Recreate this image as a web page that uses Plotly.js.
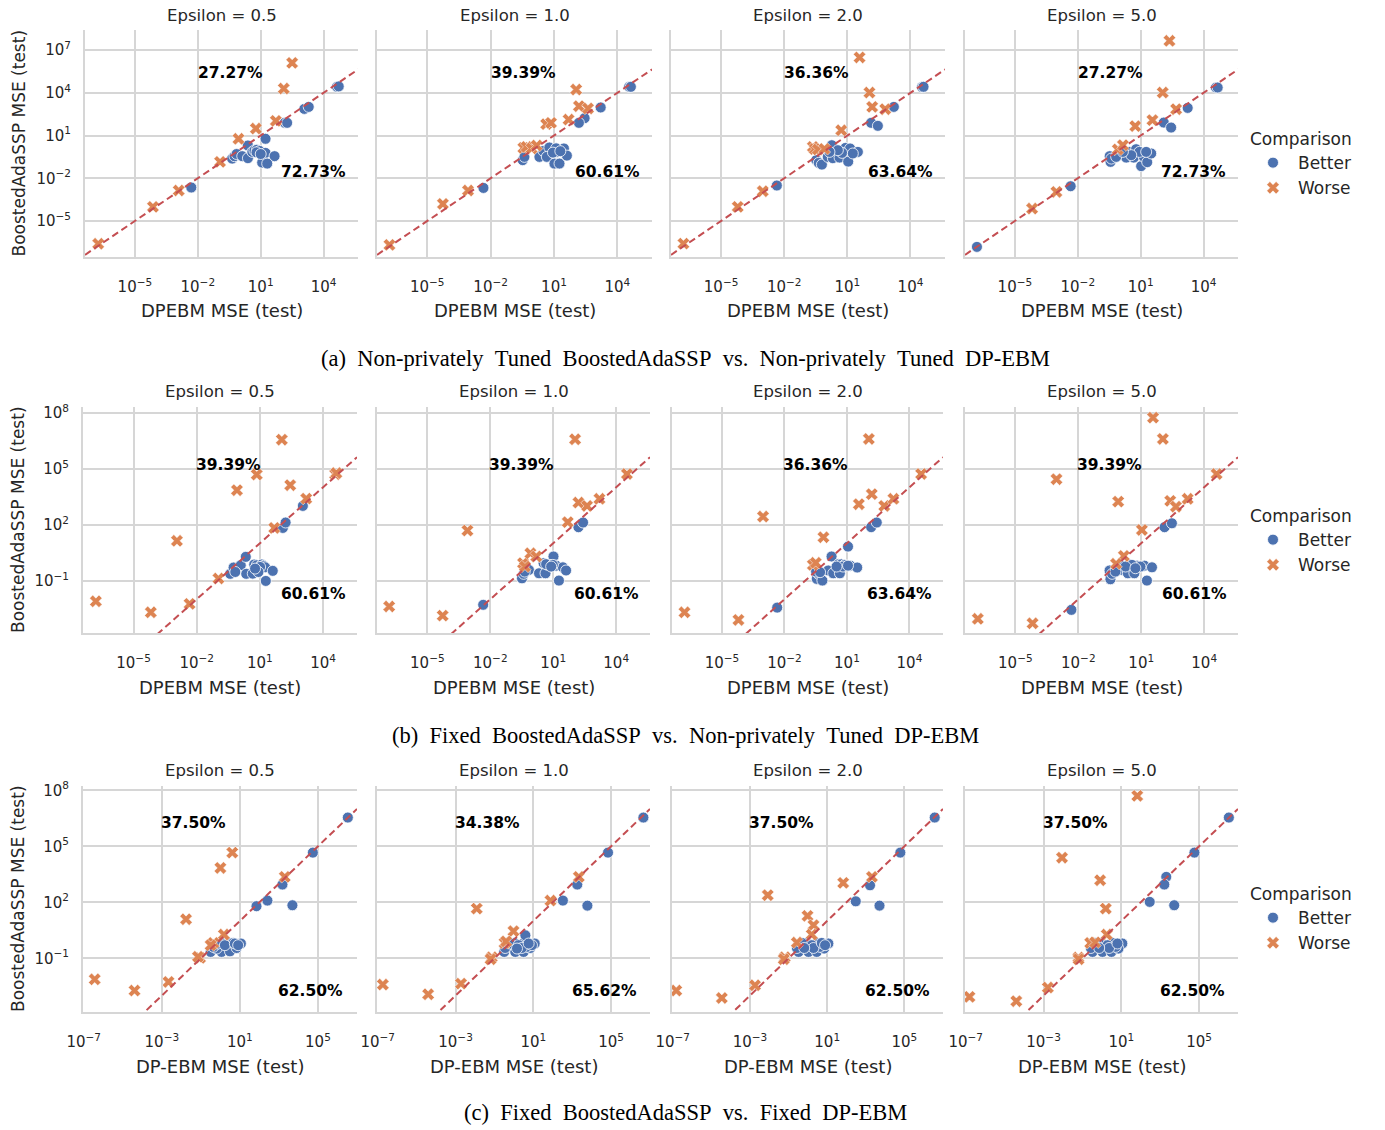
<!DOCTYPE html>
<html><head><meta charset="utf-8">
<script src="https://cdn.plot.ly/plotly-3.0.1.min.js"></script>
<style>html,body{margin:0;padding:0;background:#fff;}#chart{width:1385px;height:1130px;}</style>
</head><body><div id="chart"></div>
<script>
// ---------- DATA (stored as log10 of the MSE: [log10 DPEBM MSE, log10 BoostedAdaSSP MSE]) ----------
const epsilons = ["0.5", "1.0", "2.0", "5.0"];
const comparisonLabels = ["Better", "Worse"];
const rowXTitles = ["DPEBM MSE (test)", "DPEBM MSE (test)", "DP-EBM MSE (test)"];
const yTitle = "BoostedAdaSSP MSE (test)";
const captions = [
  "(a) Non-privately Tuned BoostedAdaSSP vs. Non-privately Tuned DP-EBM",
  "(b) Fixed BoostedAdaSSP vs. Non-privately Tuned DP-EBM",
  "(c) Fixed BoostedAdaSSP vs. Fixed DP-EBM"
];
const worsePct = [["27.27%","39.39%","36.36%","27.27%"],["39.39%","39.39%","36.36%","39.39%"],["37.50%","34.38%","37.50%","37.50%"]];
const betterPct = [["72.73%","60.61%","63.64%","72.73%"],["60.61%","60.61%","63.64%","60.61%"],["62.50%","65.62%","62.50%","62.50%"]];
const rowXTickExp = [[-5,-2,1,4],[-5,-2,1,4],[-7,-3,1,5]];
const rowYTickExp = [[-5,-2,1,4,7],[-1,2,5,8],[-1,2,5,8]];

// (a) Non-privately tuned vs non-privately tuned
const a_e05_better = [[-2.31,-2.65],[4.64,4.42],[4.72,4.45],[3.08,2.87],[3.29,3.01],[2.15,1.89],[2.26,1.89],[1.23,0.77],[0.39,0.30],[-0.36,-0.62],[-0.25,-0.45],[-0.15,-0.30],[0.12,-0.45],[0.39,-0.59],[0.60,-0.15],[0.70,-0.05],[0.82,0.0],[0.95,-0.08],[0.80,-0.18],[1.23,-0.22],[1.66,-0.45],[1.07,-0.90],[1.31,-0.97],[1.0,-0.3]];
const a_e05_worse = [[-6.75,-6.6],[-4.14,-4.01],[-2.91,-2.86],[-0.94,-0.85],[-0.06,0.77],[0.77,1.49],[1.72,2.03],[2.1,4.3],[2.5,6.1]];
const a_e10_better = [[-2.34,-2.68],[4.56,4.42],[4.64,4.42],[3.21,2.97],[2.45,2.22],[2.18,1.89],[-0.48,-0.73],[-0.40,-0.5],[0.31,-0.5],[0.5,-0.08],[0.78,0.16],[0.66,-0.5],[1.02,-0.97],[1.26,-0.97],[1.15,-0.15],[1.47,0.09],[1.61,-0.41],[1.1,0.1],[0.95,-0.2],[1.3,-0.1]];
const a_e10_worse = [[-6.79,-6.68],[-4.26,-3.8],[-3.07,-2.86],[-0.45,0.13],[-0.3,0.2],[-0.06,0.09],[0.18,0.30],[0.63,1.8],[0.86,1.89],[1.69,2.12],[2.05,4.23],[2.18,3.06],[2.61,2.9]];
const a_e20_better = [[-2.35,-2.51],[4.55,4.40],[4.62,4.42],[3.21,3.01],[2.13,1.89],[2.45,1.68],[0.26,0.32],[-0.48,-0.73],[-0.36,-0.92],[-0.21,-1.04],[0.07,-0.5],[0.31,-0.59],[0.63,-0.55],[0.91,0.13],[1.13,0.09],[1.04,-0.83],[1.5,-0.15],[0.75,-0.22],[0.55,-0.03],[1.26,-0.26],[0.15,-0.15]];
const a_e20_worse = [[-6.79,-6.59],[-4.21,-4.01],[-3.02,-2.91],[-0.64,0.2],[-0.55,0.05],[-0.4,0.02],[-0.09,0.06],[0.71,1.37],[1.58,6.48],[2.05,4.02],[2.18,3.01],[2.80,2.85]];
const a_e50_better = [[-6.81,-6.82],[-2.34,-2.56],[4.59,4.37],[4.67,4.37],[3.24,2.94],[2.1,1.91],[2.45,1.56],[-0.48,-0.45],[-0.44,-0.85],[-0.4,-0.62],[0.02,-0.31],[0.31,-0.55],[0.47,-0.15],[0.67,-0.55],[0.78,0.04],[1.02,-1.15],[1.15,-0.5],[1.31,-0.87],[1.5,-0.26],[0.94,-0.15],[0.55,-0.38],[-0.17,-0.5],[0.15,-0.15],[1.26,-0.15]];
const a_e50_worse = [[-4.18,-4.13],[-3.02,-2.96],[-0.09,0.02],[0.15,0.32],[0.74,1.66],[1.56,2.08],[2.05,4.02],[2.69,2.85],[2.37,7.65]];

// (b) Fixed vs non-privately tuned
const b_e05_better = [[3.04,3.0],[2.09,1.82],[2.22,2.11],[-0.41,-0.64],[-0.25,-0.30],[0.09,-0.18],[0.33,0.27],[0.35,-0.64],[0.66,-0.63],[0.73,-0.14],[0.85,-0.18],[1.09,-0.14],[1.17,-0.21],[1.25,-0.29],[1.28,-1.02],[1.61,-0.48],[-0.17,-0.54],[1.01,-0.27],[0.93,-0.54],[0.77,-0.36]];
const b_e05_worse = [[-6.79,-2.11],[-4.18,-2.7],[-2.34,-2.25],[-0.97,-0.89],[-2.94,1.13],[-0.09,3.84],[0.85,4.68],[1.68,1.82],[2.04,6.55],[2.44,4.11],[3.2,3.39],[4.57,4.7],[4.63,4.76]];
const b_e10_better = [[-2.34,-2.3],[2.2,1.86],[2.42,2.11],[-0.49,-0.88],[-0.41,-0.64],[-0.16,-0.43],[0.32,-0.61],[0.63,-0.61],[0.54,-0.07],[0.74,-0.16],[1.01,0.29],[1.14,-0.2],[1.27,-1.0],[1.46,-0.29],[1.61,-0.46],[-0.36,-0.52],[0.82,-0.16],[0.66,-0.12],[0.98,-0.16],[0.9,-0.25]];
const b_e10_worse = [[-6.82,-2.39],[-4.27,-2.88],[-3.09,1.68],[-0.44,-0.07],[-0.35,-0.25],[-0.09,0.46],[0.19,0.29],[1.69,2.13],[2.04,6.57],[2.2,3.18],[2.61,3.0],[3.2,3.38],[4.51,4.71]];
const b_e20_better = [[-2.35,-2.45],[2.16,1.86],[2.43,2.11],[1.05,0.82],[0.26,0.29],[-0.45,-0.91],[-0.37,-0.64],[-0.18,-1.0],[-0.48,-0.52],[0.10,-0.46],[0.34,-0.61],[0.66,-0.61],[0.58,-0.13],[0.73,-0.13],[0.89,-0.16],[1.16,-0.2],[1.49,-0.3],[-0.29,-0.55],[0.81,-0.25],[1.05,-0.2],[0.5,-0.25]];
const b_e20_worse = [[-6.8,-2.7],[-4.21,-3.11],[-3.03,2.43],[-0.64,-0.16],[-0.5,-0.05],[-0.13,1.32],[1.57,3.09],[2.05,6.59],[2.19,3.63],[2.79,3.0],[3.23,3.38],[4.56,4.71]];
const b_e50_better = [[-2.33,-2.57],[2.11,1.86],[2.46,2.07],[-0.51,-0.46],[-0.47,-0.93],[-0.39,-0.64],[0.04,-0.2],[0.09,-0.43],[0.36,-0.61],[0.43,-0.13],[0.67,-0.61],[0.8,-0.2],[1.15,-0.2],[1.27,-1.0],[1.51,-0.29],[-0.23,-0.52],[0.56,-0.16],[0.96,-0.25],[0.25,-0.25],[0.72,-0.34]];
const b_e50_worse = [[-6.79,-3.05],[-4.18,-3.29],[-3.04,4.43],[-0.1,3.23],[0.17,0.32],[-0.2,-0.1],[1.03,1.71],[1.56,7.73],[2.03,6.59],[2.38,3.27],[2.65,2.96],[3.21,3.38],[4.59,4.71]];

// (c) Fixed vs fixed
const c_e05_better = [[6.53,6.54],[4.74,4.66],[3.18,2.95],[2.41,2.09],[1.85,1.79],[3.69,1.84],[-0.5,-0.66],[0.06,-0.18],[0.06,-0.66],[0.46,-0.18],[0.49,-0.63],[0.66,-0.18],[0.83,-0.45],[1.05,-0.21],[-0.19,-0.48],[-0.36,-0.39],[-0.11,-0.21],[0.23,-0.3],[0.74,-0.21],[0.91,-0.3]];
const c_e05_worse = [[-6.44,-2.13],[-4.4,-2.73],[-2.66,-2.27],[-1.04,-0.98],[-1.15,-0.92],[-1.76,1.09],[0.0,3.84],[0.61,4.66],[0.18,0.27],[-0.36,-0.18],[-0.5,-0.3],[3.3,3.36]];
const c_e10_better = [[6.66,6.54],[4.84,4.66],[3.26,2.95],[2.52,2.09],[3.78,1.82],[-0.5,-0.66],[0.07,-0.66],[0.5,-0.66],[0.03,-0.18],[0.5,-0.18],[0.59,0.23],[0.84,-0.45],[1.07,-0.21],[-0.45,-0.45],[-0.19,-0.21],[0.24,-0.3],[0.67,-0.39],[0.93,-0.3],[0.41,-0.45],[0.16,-0.48],[0.76,-0.21]];
const c_e10_worse = [[-6.74,-2.41],[-4.41,-2.93],[-2.72,-2.36],[-1.14,-0.95],[-1.2,-1.05],[-1.91,1.66],[-0.02,0.45],[-0.48,-0.18],[-0.4,-0.1],[1.88,2.09],[3.34,3.36]];
const c_e20_better = [[6.57,6.54],[4.79,4.66],[3.22,2.91],[2.48,2.05],[3.71,1.82],[-0.48,-0.66],[0.03,-0.66],[0.46,-0.66],[-0.05,-0.18],[0.46,-0.18],[0.84,-0.48],[1.06,-0.21],[-0.57,-0.45],[-0.31,-0.18],[0.2,-0.3],[0.63,-0.39],[0.29,-0.45],[-0.19,-0.45],[0.72,-0.18],[0.89,-0.3]];
const c_e20_worse = [[-6.82,-2.73],[-4.46,-3.13],[-2.74,-2.45],[-1.2,-0.95],[-1.25,-1.05],[-2.08,2.38],[-0.02,1.27],[0.29,0.77],[0.2,0.27],[-0.57,-0.16],[1.83,3.04],[3.32,3.36]];
const c_e50_better = [[6.53,6.54],[4.76,4.66],[3.31,3.36],[3.21,2.95],[2.46,2.02],[3.72,1.84],[-0.48,-0.66],[0.03,-0.66],[0.49,-0.66],[-0.02,-0.18],[0.54,-0.18],[1.05,-0.21],[0.85,-0.48],[-0.57,-0.45],[-0.31,-0.18],[0.29,-0.3],[0.71,-0.39],[0.37,-0.45],[-0.14,-0.45],[0.8,-0.21]];
const c_e50_worse = [[-6.81,-3.07],[-4.4,-3.3],[-2.78,-2.57],[-1.21,-0.96],[-1.2,-1.05],[-2.05,4.39],[-0.09,3.18],[0.2,1.66],[0.25,0.27],[-0.6,-0.18],[-0.35,-0.15],[1.82,7.7]];

const panelData = [
  [[a_e05_better,a_e05_worse],[a_e10_better,a_e10_worse],[a_e20_better,a_e20_worse],[a_e50_better,a_e50_worse]],
  [[b_e05_better,b_e05_worse],[b_e10_better,b_e10_worse],[b_e20_better,b_e20_worse],[b_e50_better,b_e50_worse]],
  [[c_e05_better,c_e05_worse],[c_e10_better,c_e10_worse],[c_e20_better,c_e20_worse],[c_e50_better,c_e50_worse]]
];

// ---------- LAYOUT / STYLE ----------
const W = 1385, H = 1130;
const FONT = "DejaVu Sans, Liberation Sans, Arial, sans-serif";
const SERIF = "Liberation Serif, Times New Roman, serif";
const TXT = "#262626";
const GRID = "#d6d6d6";
const BLUE = "#4c72b0", ORANGE = "#dd8452", RED = "#c44e52";
const rowYPix = [[30,257],[407,633],[786,1012]];
const colXPix = [
  [[85,358],[377,652],[671,945],[965,1238]],
  [[83,357],[377,650],[672,943],[965,1238]],
  [[83,357],[377,650],[672,943],[965,1238]]
];
const rowXRange = [[-7.38,5.64],[-7.4,5.61],[-7.04,7.0]];
const rowYRange = [[-7.53,8.41],[-3.81,8.3],[-3.88,8.23]];
const topTextPos = [[0.532,0.81],[0.53,0.745],[0.404,0.836]];
const botTextPos = [[0.838,0.373],[0.84,0.171],[0.832,0.093]];
const legendTopPix = [123, 500, 878];
const captionYPix = [358, 735, 1112];

const fx = p => p / W;
const fy = p => 1 - p / H;
const pw = e => Math.pow(10, e);
const lab = e => "10<sup>" + (e < 0 ? "\u2212" + (-e) : e) + "</sup>";
const wide = s => s.split(" ").join("\u2002"); // wider word spacing like the LaTeX caption

const traces = [];
const layout = {
  width: W, height: H,
  margin: {l:0, r:0, t:0, b:0},
  paper_bgcolor: "#ffffff", plot_bgcolor: "#ffffff",
  font: {family: FONT, color: TXT, size: 16},
  annotations: [],
  showlegend: true
};
const legendNames = ["legend", "legend2", "legend3"];

for (let r = 0; r < 3; r++) {
  for (let c = 0; c < 4; c++) {
    const k = r * 4 + c + 1;
    const xs = k === 1 ? "" : String(k);
    const xa = "x" + xs, ya = "y" + xs;
    const [better, worse] = panelData[r][c];
    const show = c === 0;
    traces.push({
      type: "scatter", mode: "markers", xaxis: xa, yaxis: ya,
      x: better.map(p => pw(p[0])), y: better.map(p => pw(p[1])),
      name: comparisonLabels[0], legend: legendNames[r], showlegend: show, legendgroup: "b" + r,
      marker: {symbol: "circle", size: 11, color: BLUE, line: {color: "#ffffff", width: 0.8}}
    });
    traces.push({
      type: "scatter", mode: "markers", xaxis: xa, yaxis: ya,
      x: worse.map(p => pw(p[0])), y: worse.map(p => pw(p[1])),
      name: comparisonLabels[1], legend: legendNames[r], showlegend: show, legendgroup: "w" + r,
      marker: {symbol: "x", size: 11, color: ORANGE, line: {color: "#ffffff", width: 0.5}}
    });
    const xr = rowXRange[r];
    traces.push({
      type: "scatter", mode: "lines", xaxis: xa, yaxis: ya,
      x: [pw(xr[0]), pw(xr[1])], y: [pw(xr[0]), pw(xr[1])],
      showlegend: false, hoverinfo: "skip",
      line: {color: RED, width: 2, dash: "7px,4px"}
    });
    const common = {
      type: "log", showgrid: true, gridcolor: GRID, gridwidth: 2,
      showline: true, linecolor: GRID, linewidth: 2, zeroline: false,
      ticks: "", tickfont: {family: FONT, size: 15, color: TXT}, fixedrange: true
    };
    layout["xaxis" + xs] = Object.assign({}, common, {
      domain: [fx(colXPix[r][c][0]), fx(colXPix[r][c][1])], anchor: ya,
      range: rowXRange[r],
      tickvals: rowXTickExp[r].map(pw), ticktext: rowXTickExp[r].map(lab),
      ticklabelstandoff: 15
    });
    layout["yaxis" + xs] = Object.assign({}, common, {
      domain: [fy(rowYPix[r][1]), fy(rowYPix[r][0])], anchor: xa,
      range: rowYRange[r],
      tickvals: rowYTickExp[r].map(pw), ticktext: rowYTickExp[r].map(lab),
      showticklabels: c === 0, ticklabelstandoff: 9
    });
    // subplot title
    layout.annotations.push({
      xref: xa + " domain", yref: ya + " domain", x: 0.5, y: 1, yshift: 15,
      xanchor: "center", yanchor: "middle", showarrow: false,
      text: "Epsilon = " + epsilons[c], font: {family: FONT, size: 16.5, color: TXT}
    });
    // x title
    layout.annotations.push({
      xref: xa + " domain", yref: ya + " domain", x: 0.5, y: 0, yshift: -54,
      xanchor: "center", yanchor: "middle", showarrow: false,
      text: rowXTitles[r], font: {family: FONT, size: 18, color: TXT}
    });
    // percentages
    layout.annotations.push({
      xref: xa + " domain", yref: ya + " domain", x: topTextPos[r][0], y: topTextPos[r][1],
      xanchor: "center", yanchor: "middle", showarrow: false,
      text: "<b>" + worsePct[r][c] + "</b>", font: {family: FONT, size: 15.5, color: "#000000"}
    });
    layout.annotations.push({
      xref: xa + " domain", yref: ya + " domain", x: botTextPos[r][0], y: botTextPos[r][1],
      xanchor: "center", yanchor: "middle", showarrow: false,
      text: "<b>" + betterPct[r][c] + "</b>", font: {family: FONT, size: 15.5, color: "#000000"}
    });
    if (c === 0) {
      layout.annotations.push({
        xref: "paper", yref: ya + " domain", x: fx(18), y: 0.5,
        xanchor: "center", yanchor: "middle", showarrow: false, textangle: -90,
        text: yTitle, font: {family: FONT, size: 17, color: TXT}
      });
    }
  }
  layout[legendNames[r]] = {
    x: fx(1248), y: fy(legendTopPix[r]), xanchor: "left", yanchor: "top",
    bgcolor: "rgba(0,0,0,0)", borderwidth: 0,
    title: {text: "Comparison", font: {family: FONT, size: 17, color: TXT}},
    font: {family: FONT, size: 17, color: TXT}, itemwidth: 40, tracegroupgap: 0
  };
  layout.annotations.push({
    xref: "paper", yref: "paper", x: fx(685), y: fy(captionYPix[r]),
    xanchor: "center", yanchor: "middle", showarrow: false,
    text: wide(captions[r]), font: {family: SERIF, size: 22.5, color: "#000000"}
  });
}

Plotly.newPlot("chart", traces, layout, {displayModeBar: false, staticPlot: true});
</script>
</body></html>
